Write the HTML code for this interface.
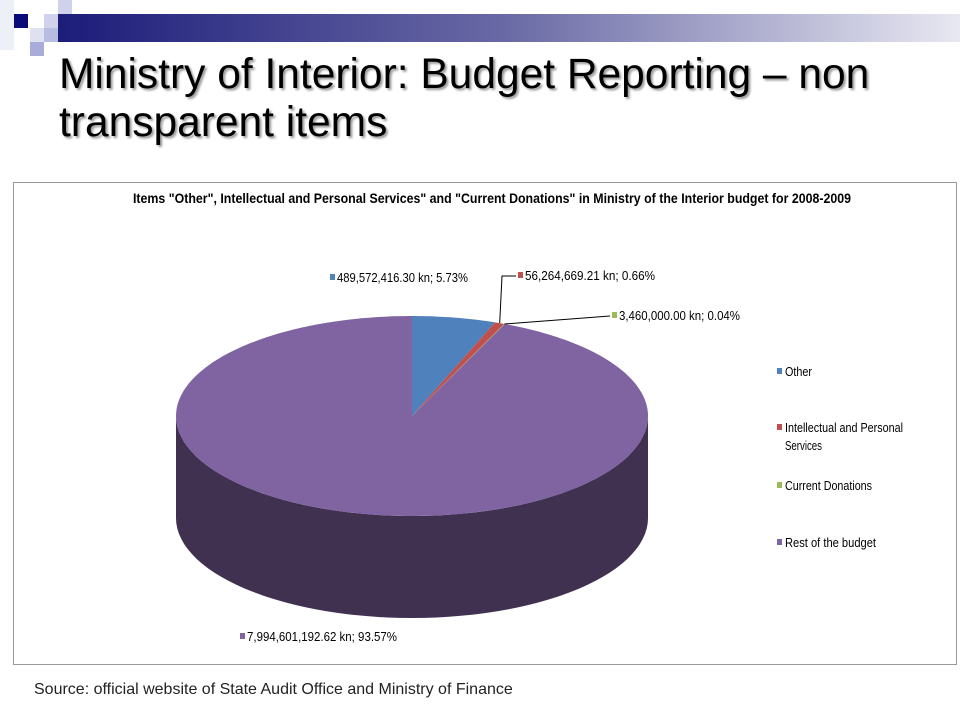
<!DOCTYPE html>
<html><head><meta charset="utf-8"><style>
body{margin:0;width:960px;height:720px;background:#fff;overflow:hidden;position:relative;font-family:"Liberation Sans",sans-serif}
.sq{position:absolute;width:14px;height:14px}
#title{position:absolute;left:59px;top:51px;font-size:42.5px;line-height:48px;color:#000;text-shadow:2px 2px 2px #999;margin:0;font-weight:normal;white-space:nowrap}
#src{position:absolute;left:34px;top:681px;font-size:16px;color:#222}
</style></head><body>
<div>
<div class="sq" style="left:0;top:0;width:14px;height:50px;background:#eef0f8"></div>
<div class="sq" style="left:58px;top:0;background:#cfd2ea"></div>
<div class="sq" style="left:14px;top:14px;background:#0a0a78"></div>
<div class="sq" style="left:44px;top:14px;background:#cfd2ea"></div>
<div class="sq" style="left:30px;top:28px;background:#dfe1f1"></div>
<div class="sq" style="left:44px;top:28px;background:#b8bce0"></div>
<div class="sq" style="left:30px;top:42px;background:#a9acd8"></div>
</div>
<div style="position:absolute;left:58px;top:14px;width:902px;height:28px;background:linear-gradient(to right,#1c1c7a,#6a6aa6 50%,#e8e8f2)"></div>
<h1 id="title">Ministry of Interior: Budget Reporting – non<br>transparent items</h1>
<svg width="960" height="720" style="position:absolute;left:0;top:0">
<rect x="13.5" y="182.5" width="943" height="482" fill="none" stroke="#9a9a9a"/>
<text x="492" y="203" text-anchor="middle" font-family="'Liberation Sans Narrow','Liberation Sans',sans-serif" font-weight="bold" font-size="14" textLength="718" lengthAdjust="spacingAndGlyphs">Items "Other", Intellectual and Personal Services" and "Current Donations" in Ministry of the Interior budget for 2008-2009</text>
<g id="pie"></g>
<g id="labels" font-family="'Liberation Sans Narrow','Liberation Sans',sans-serif" font-size="13"></g>
<g id="legend" font-family="'Liberation Sans Narrow','Liberation Sans',sans-serif" font-size="13"></g>
</svg>
<div id="src">Source: official website of State Audit Office and Ministry of Finance</div>
<script>
const categories=["Other","Intellectual and Personal Services","Current Donations","Rest of the budget"];
const values=[489572416.30,56264669.21,3460000.00,7994601192.62];
const labels=["489,572,416.30 kn; 5.73%","56,264,669.21 kn; 0.66%","3,460,000.00 kn; 0.04%","7,994,601,192.62 kn; 93.57%"];
const colors=["#4F81BD","#C0504D","#9BBB59","#8064A2"];
const sides=["#2f4d72","#73302e","#5d7035","#403151"];
const NS="http://www.w3.org/2000/svg";
const cx=412,cy=416,rx=236,ry=100,depth=102;
const pie=document.getElementById('pie');
function pt(a,dy){return [cx+rx*Math.sin(a),cy-ry*Math.cos(a)+(dy||0)];}
function mk(t,attrs){const e=document.createElementNS(NS,t);for(const k in attrs)e.setAttribute(k,attrs[k]);return e;}
const total=values.reduce((a,b)=>a+b,0);
let acc=0;const ang=[];
values.forEach(v=>{const a0=acc/total*2*Math.PI;acc+=v;ang.push([a0,acc/total*2*Math.PI]);});
ang.forEach((r,i)=>{
 const s=Math.max(r[0],Math.PI/2),e=Math.min(r[1],Math.PI*1.5);
 if(e<=s)return;
 let d="";const n=60;
 for(let k=0;k<=n;k++){const p=pt(s+(e-s)*k/n);d+=(k?"L":"M")+p[0].toFixed(1)+","+p[1].toFixed(1);}
 for(let k=n;k>=0;k--){const p=pt(s+(e-s)*k/n,depth);d+="L"+p[0].toFixed(1)+","+p[1].toFixed(1);}
 const el=mk('path',{d:d+"Z",fill:sides[i]});
 
 
 pie.appendChild(el);
});
ang.forEach((r,i)=>{
 let d="M"+cx+","+cy;const n=Math.max(4,Math.ceil((r[1]-r[0])*60));
 for(let k=0;k<=n;k++){const p=pt(r[0]+(r[1]-r[0])*k/n);d+="L"+p[0].toFixed(1)+","+p[1].toFixed(1);}
 const el=mk('path',{d:d+"Z",fill:colors[i]});
 
 
 pie.appendChild(el);
});
const lg=document.getElementById('labels');
const lpos=[[330,282],[518,280],[612,320],[240,641]];
const lw=[131,130,121,150];
labels.forEach((t,i)=>{
 const g=mk('g',{});
 
 
 g.appendChild(mk('rect',{x:lpos[i][0],y:lpos[i][1]-8,width:5,height:6,fill:colors[i]}));
 const tx=mk('text',{x:lpos[i][0]+7,y:lpos[i][1],textLength:lw[i],lengthAdjust:"spacingAndGlyphs"});tx.textContent=t;g.appendChild(tx);
 lg.appendChild(g);
});
const mid1=pt((ang[1][0]+ang[1][1])/2),mid2=pt((ang[2][0]+ang[2][1])/2);
const l1=mk('path',{d:`M${mid1[0]},${mid1[1]}L502,276L516,276`,fill:"none",stroke:"#000","stroke-width":1});
lg.appendChild(l1);
const l2=mk('path',{d:`M${mid2[0]},${mid2[1]}L610,316`,fill:"none",stroke:"#000","stroke-width":1});
lg.appendChild(l2);
const leg=document.getElementById('legend');
const ly=[[376],[432,450],[490],[547]];
const ltxt=[["Other"],["Intellectual and Personal","Services"],["Current Donations"],["Rest of the budget"]];
const ltw=[[27],[118,37],[87],[91]];
categories.forEach((c,i)=>{
 const g=mk('g',{});
 
 
 g.appendChild(mk('rect',{x:777,y:ly[i][0]-8,width:5,height:6,fill:colors[i]}));
 ltxt[i].forEach((t,j)=>{const tx=mk('text',{x:785,y:ly[i][j],textLength:ltw[i][j],lengthAdjust:"spacingAndGlyphs"});tx.textContent=t;g.appendChild(tx);});
 leg.appendChild(g);
});
</script>
</body></html>
